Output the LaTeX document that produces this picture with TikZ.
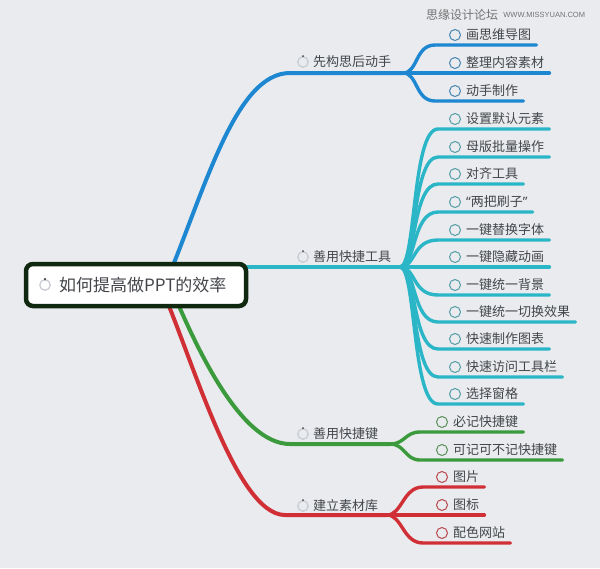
\documentclass[tikz,border=0pt]{standalone}
\usepackage{fontspec}
\setmainfont{Noto Sans CJK SC}
\newfontfamily\wmfont{Liberation Sans}
\newfontfamily\quotefont{Noto Sans}
\usetikzlibrary{positioning, backgrounds}

\definecolor{bgcol}{HTML}{E9EBEE}
\definecolor{txtcol}{HTML}{43464A}
\definecolor{rootcol}{HTML}{10280F}
\definecolor{bluec}{HTML}{1E87D2}
\definecolor{cyanc}{HTML}{2BB6C8}
\definecolor{greenc}{HTML}{3B9A3C}
\definecolor{redc}{HTML}{D12F36}
\definecolor{spincol}{HTML}{C9CDD3}

\begin{document}
\begin{tikzpicture}[x=1pt, y=-1pt,
        rootbox/.style={rectangle, rounded corners=7pt, draw=rootcol, line width=4.5pt, fill=white, minimum width=220pt, minimum height=42pt},
        roottext/.style={anchor=west, inner sep=0pt, text=txtcol, font=\fontsize{17}{20}\selectfont},
        lab/.style={anchor=west, inner xsep=5pt, inner ysep=0pt, text=txtcol, font=\fontsize{13}{15}\selectfont},
        leaf/.style={anchor=west, inner xsep=5pt, inner ysep=0pt, text=txtcol, font=\fontsize{13}{15}\selectfont},
        ring/.style={circle, draw=#1, line width=1pt, minimum size=11pt, inner sep=0pt},
        spin/.style={circle, draw=spincol, line width=1.3pt, minimum size=10.5pt, inner sep=0pt},
        branch/.style={draw=#1, line width=4pt, line cap=round},
        twig/.style={draw=#1, line width=3.4pt, line cap=round},
        wm/.style={inner sep=0pt, text=black!55}
    ]
        \useasboundingbox (0,0) rectangle (600,568);

        % watermark
        \node[wm, font=\fontsize{12}{14}\selectfont] (wm1) at (462,15) {思缘设计论坛};
        \node[wm, font=\wmfont\fontsize{7.5}{9}\selectfont, right=5pt of wm1] (wm2) {WWW.MISSYUAN.COM};

        % central topic
        \node[rootbox] (root) at (136,285) {};
        \node[spin] (s0) at (45,285) {};
        \fill[black!75] (s0.north) circle (1.2pt);
        \node[roottext] (roottxt) at (59,285) {如何提高做PPT的效率};

        % main topics
        \node[spin] (s1) at (303,62) {};
        \node[lab] (l1) at (308,62) {先构思后动手};
        \node[spin] (s2) at (303,257) {};
        \node[lab] (l2) at (308,257) {善用快捷工具};
        \node[spin] (s3) at (303,434) {};
        \node[lab] (l3) at (308,434) {善用快捷键};
        \node[spin] (s4) at (303,506) {};
        \node[lab] (l4) at (308,506) {建立素材库};
        \fill[black!75] (s1.north) circle (1pt);
        \fill[black!75] (s2.north) circle (1pt);
        \fill[black!75] (s3.north) circle (1pt);
        \fill[black!75] (s4.north) circle (1pt);

        \coordinate (k1) at (290,73);
        \coordinate (bp1) at (403,73);
        \coordinate (bp2) at (400,267);
        \coordinate (k3) at (290,444);
        \coordinate (bp3) at (390,444);
        \coordinate (k4) at (285,515);
        \coordinate (bp4) at (387,515);

        % first branch
        \node[leaf] (a1) at (461,35) {画思维导图};
        \node[leaf] (a2) at (461,63) {整理内容素材};
        \node[leaf] (a3) at (461,91) {动手制作};
        \node[ring=bluec!60!gray] (a1o) at (455,35) {};
        \node[ring=bluec!60!gray] (a2o) at (455,63) {};
        \node[ring=bluec!60!gray] (a3o) at (455,91) {};
        \coordinate (a1l) at (435,45);
        \coordinate (a2l) at (435,73);
        \coordinate (a3l) at (435,101);

        % second branch
        \node[leaf] (b1) at (461,119) {设置默认元素};
        \node[leaf] (b2) at (461,147) {母版批量操作};
        \node[leaf] (b3) at (461,174) {对齐工具};
        \node[leaf] (b4) at (461,202) {{\quotefont“}两把刷子{\quotefont”}};
        \node[leaf] (b5) at (461,230) {一键替换字体};
        \node[leaf] (b6) at (461,257) {一键隐藏动画};
        \node[leaf] (b7) at (461,285) {一键统一背景};
        \node[leaf] (b8) at (461,312) {一键统一切换效果};
        \node[leaf] (b9) at (461,339) {快速制作图表};
        \node[leaf] (b10) at (461,367) {快速访问工具栏};
        \node[leaf] (b11) at (461,394) {选择窗格};
        \node[ring=cyanc!55!gray] (b1o) at (455,119) {};
        \node[ring=cyanc!55!gray] (b2o) at (455,147) {};
        \node[ring=cyanc!55!gray] (b3o) at (455,174) {};
        \node[ring=cyanc!55!gray] (b4o) at (455,202) {};
        \node[ring=cyanc!55!gray] (b5o) at (455,230) {};
        \node[ring=cyanc!55!gray] (b6o) at (455,257) {};
        \node[ring=cyanc!55!gray] (b7o) at (455,285) {};
        \node[ring=cyanc!55!gray] (b8o) at (455,312) {};
        \node[ring=cyanc!55!gray] (b9o) at (455,339) {};
        \node[ring=cyanc!55!gray] (b10o) at (455,367) {};
        \node[ring=cyanc!55!gray] (b11o) at (455,394) {};
        \coordinate (b1l) at (438,129);
        \coordinate (b2l) at (438,157);
        \coordinate (b3l) at (438,184);
        \coordinate (b4l) at (438,212);
        \coordinate (b5l) at (438,240);
        \coordinate (b6l) at (438,267);
        \coordinate (b7l) at (438,295);
        \coordinate (b8l) at (438,322);
        \coordinate (b9l) at (438,349);
        \coordinate (b10l) at (438,377);
        \coordinate (b11l) at (438,404);

        % third branch
        \node[leaf] (c1) at (448,422) {必记快捷键};
        \node[leaf] (c2) at (448,450) {可记可不记快捷键};
        \node[ring=greenc!55!gray] (c1o) at (442,422) {};
        \node[ring=greenc!55!gray] (c2o) at (442,450) {};
        \coordinate (c1l) at (420,432);
        \coordinate (c2l) at (420,460);

        % fourth branch
        \node[leaf] (d1) at (448,477) {图片};
        \node[leaf] (d2) at (448,505) {图标};
        \node[leaf] (d3) at (448,533) {配色网站};
        \node[ring=redc!70!gray] (d1o) at (442,477) {};
        \node[ring=redc!70!gray] (d2o) at (442,505) {};
        \node[ring=redc!70!gray] (d3o) at (442,533) {};
        \coordinate (d1l) at (423,487);
        \coordinate (d2l) at (423,515);
        \coordinate (d3l) at (423,543);

        \begin{scope}[on background layer]
            \fill[bgcol] (0,0) rectangle (600,568);

            \draw[branch=bluec] ([xshift=29pt]root.center) .. controls (205,190) and (235,73) .. (k1) -- (bp1);
            \draw[branch=cyanc] (root.center |- bp2) -- (bp2);
            \draw[branch=greenc] ([xshift=34pt]root.center) .. controls (195,345) and (240,444) .. (k3) -- (bp3);
            \draw[branch=redc] ([xshift=24pt]root.center) .. controls (190,350) and (235,515) .. (k4) -- (bp4);

            \draw[twig=bluec] (bp1) .. controls +(15,0) and +(-20,0) .. (a1l) -- (a1l -| a1.east);
            \draw[twig=bluec] (bp1) -- (a2l) -- (a2l -| a2.east);
            \draw[twig=bluec] (bp1) .. controls +(15,0) and +(-20,0) .. (a3l) -- (a3l -| a3.east);

            \draw[twig=cyanc] (bp2) .. controls +(16,0) and +(-26,0) .. (b1l) -- (b1l -| b1.east);
            \draw[twig=cyanc] (bp2) .. controls +(16,0) and +(-26,0) .. (b2l) -- (b2l -| b2.east);
            \draw[twig=cyanc] (bp2) .. controls +(16,0) and +(-26,0) .. (b3l) -- (b3l -| b3.east);
            \draw[twig=cyanc] (bp2) .. controls +(16,0) and +(-26,0) .. (b4l) -- (b4l -| b4.east);
            \draw[twig=cyanc] (bp2) .. controls +(16,0) and +(-26,0) .. (b5l) -- (b5l -| b5.east);
            \draw[twig=cyanc] (bp2) -- (b6l) -- (b6l -| b6.east);
            \draw[twig=cyanc] (bp2) .. controls +(16,0) and +(-26,0) .. (b7l) -- (b7l -| b7.east);
            \draw[twig=cyanc] (bp2) .. controls +(16,0) and +(-26,0) .. (b8l) -- (b8l -| b8.east);
            \draw[twig=cyanc] (bp2) .. controls +(16,0) and +(-26,0) .. (b9l) -- (b9l -| b9.east);
            \draw[twig=cyanc] (bp2) .. controls +(16,0) and +(-26,0) .. (b10l) -- (b10l -| b10.east);
            \draw[twig=cyanc] (bp2) .. controls +(16,0) and +(-26,0) .. (b11l) -- (b11l -| b11.east);

            \draw[twig=greenc] (bp3) .. controls +(15,0) and +(-15,0) .. (c1l) -- (c1l -| c1.east);
            \draw[twig=greenc] (bp3) .. controls +(15,0) and +(-15,0) .. (c2l) -- (c2l -| c2.east);

            \draw[twig=redc] (bp4) .. controls +(15,0) and +(-20,0) .. (d1l) -- (d1l -| d1.east);
            \draw[twig=redc] (bp4) -- (d2l) -- (d2l -| d2.east);
            \draw[twig=redc] (bp4) .. controls +(15,0) and +(-20,0) .. (d3l) -- (d3l -| d3.east);
        \end{scope}

    \end{tikzpicture}
\end{document}
